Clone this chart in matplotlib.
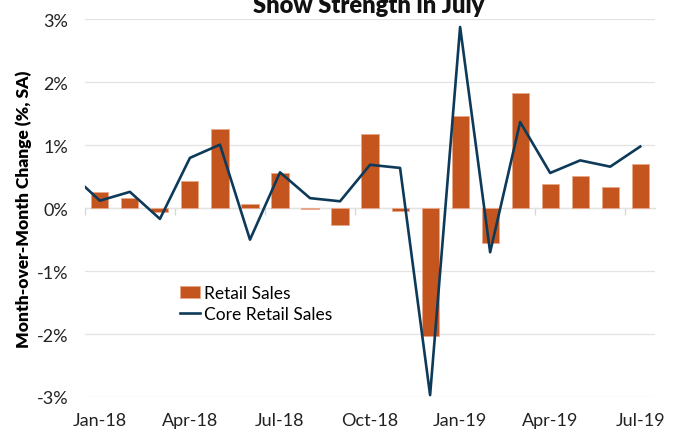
import matplotlib
matplotlib.use('Agg')
import matplotlib.pyplot as plt
import numpy as np

plt.rcParams['font.family'] = ['Lato', 'DejaVu Sans']

months = ['Jan-18', 'Feb-18', 'Mar-18', 'Apr-18', 'May-18', 'Jun-18', 'Jul-18', 'Aug-18', 'Sep-18',
          'Oct-18', 'Nov-18', 'Dec-18', 'Jan-19', 'Feb-19', 'Mar-19', 'Apr-19', 'May-19', 'Jun-19', 'Jul-19']
retail_sales = [0.25, 0.17, -0.06, 0.43, 1.26, 0.07, 0.56, -0.02, -0.27,
                1.18, -0.05, -2.03, 1.47, -0.55, 1.83, 0.38, 0.51, 0.34, 0.71]
# core series has one earlier point (Dec-17) that is clipped at the left edge
core_prev = 0.56
core_retail_sales = [0.12, 0.26, -0.17, 0.80, 1.01, -0.50, 0.57, 0.16, 0.11,
                     0.69, 0.64, -2.97, 2.88, -0.70, 1.37, 0.56, 0.76, 0.66, 0.98]

bar_color = '#C5551F'
line_color = '#0E3A5A'
grid_color = '#E3E3E3'

fig = plt.figure(figsize=(6.79, 4.31), dpi=100)
ax = fig.add_axes([0.125, 0.0766, 0.84, 0.876])

x = np.arange(len(months))
bars = ax.bar(x, retail_sales, width=0.57, color=bar_color, edgecolor='#E9A88A', linewidth=0.6,
              label='Retail Sales', zorder=2)
xl = np.concatenate([[-1], x])
line, = ax.plot(xl, [core_prev] + core_retail_sales, color=line_color, linewidth=1.9,
                label='Core Retail Sales', zorder=3)

ax.set_xlim(-0.5, len(months) - 0.5)
ax.set_ylim(-3, 3)
ax.set_yticks(np.arange(-3, 4, 1))
ax.set_yticklabels([f'{v}%' for v in range(-3, 4)])
ax.yaxis.grid(True, color=grid_color, linewidth=0.9, zorder=0)
ax.set_axisbelow(True)

for s in ax.spines.values():
    s.set_visible(False)

ax.set_xticks(x[::3])
ax.set_xticklabels(months[::3])
ax.tick_params(axis='both', length=0, labelsize=13, colors='#222222')
ax.tick_params(axis='x', pad=11)
ax.tick_params(axis='y', pad=12)

# category axis line at zero with tick marks at boundaries
sec = ax.secondary_xaxis(0.5)
sec.set_xticks(np.arange(-0.5, len(months), 3))
sec.tick_params(axis='x', direction='in', length=5, width=0.9, color='#D6D6D6',
                labelbottom=False, labeltop=False)
for s in sec.spines.values():
    s.set_color('#D6D6D6')
    s.set_linewidth(0.9)

ax.set_ylabel('Month-over-Month Change (%, SA)', fontsize=12.5, fontweight='heavy', labelpad=3)

# second line of a two-line title; the first line falls outside the picture
fig.text(0.543, 1 - 13 / 431, 'Show Strength in July', ha='center', va='baseline',
         fontsize=17, fontweight='heavy', color='#111111')

ax.legend(handles=[bars, line], loc='upper left', bbox_to_anchor=(0.154, 0.315), frameon=False,
          fontsize=12.5, handlelength=1.2, handletextpad=0.2, labelspacing=0.3, borderaxespad=0)

fig.savefig('out.png', dpi=100)
